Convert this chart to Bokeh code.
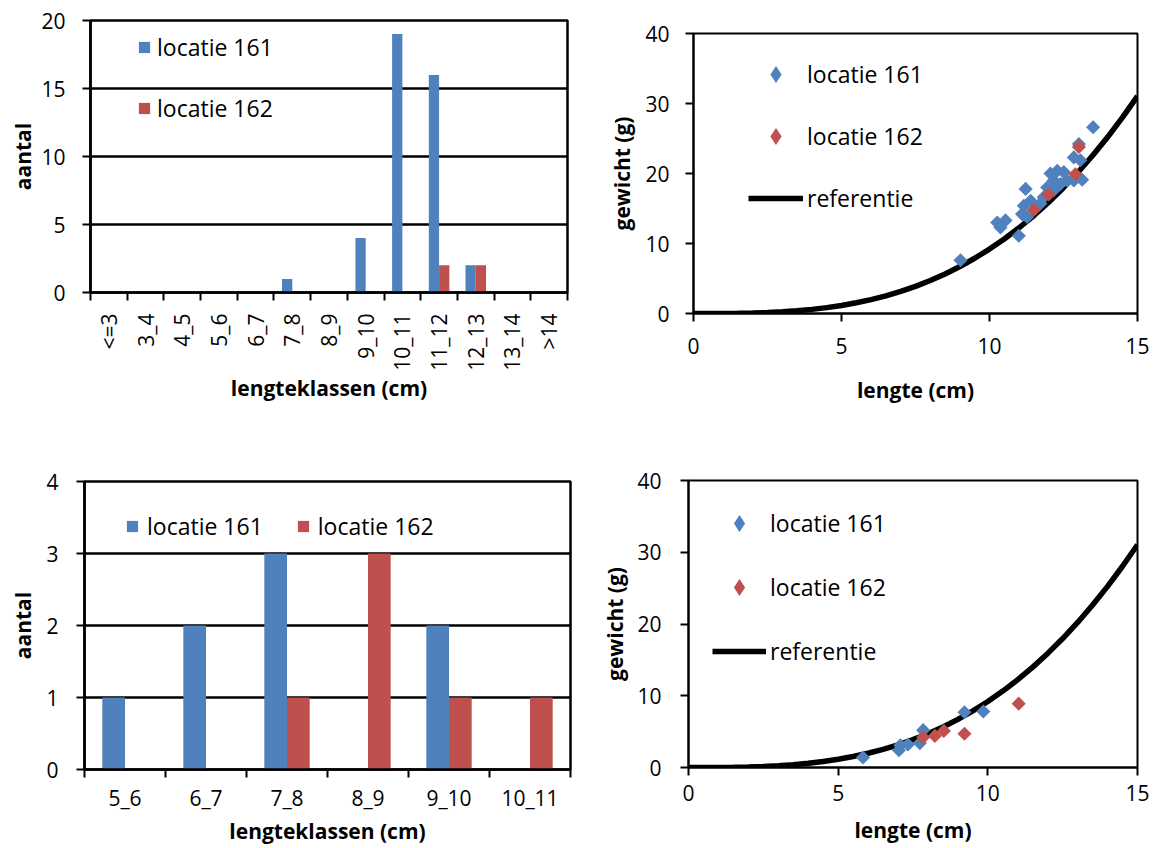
import math
import numpy as np
from bokeh.plotting import figure
from bokeh.models import Range1d, FixedTicker, Legend, LegendItem, ColumnDataSource
from bokeh.layouts import column, row
from bokeh.embed import file_html
from bokeh.resources import INLINE

FONT = "Open Sans"
BLUE = "#4F81BD"
RED = "#C0504D"

# ---- data: top-left histogram ----
classes_top = ["<=3", "3_4", "4_5", "5_6", "6_7", "7_8", "8_9", "9_10",
               "10_11", "11_12", "12_13", "13_14", ">14"]
count161_top = [0, 0, 0, 0, 0, 1, 0, 4, 19, 16, 2, 0, 0]
count162_top = [0, 0, 0, 0, 0, 0, 0, 0, 0, 2, 2, 0, 0]

# ---- data: bottom-left histogram ----
classes_bot = ["5_6", "6_7", "7_8", "8_9", "9_10", "10_11"]
count161_bot = [1, 2, 3, 0, 2, 0]
count162_bot = [0, 0, 1, 3, 1, 1]

# ---- data: top-right scatter ----
len161_top = [9.02, 10.26, 10.37, 10.54, 10.99, 11.10, 11.16, 11.22, 11.27, 11.39,
              11.72, 11.83, 11.95, 12.06, 12.17, 12.17, 12.29, 12.40, 12.51, 12.62,
              12.85, 12.85, 13.02, 13.07, 13.13, 13.50]
wt161_top = [7.6, 13.0, 12.3, 13.3, 11.1, 14.2, 15.4, 17.8, 13.8, 16.1,
             15.7, 16.6, 18.0, 20.0, 19.0, 17.6, 20.4, 18.5, 20.2, 19.0,
             22.3, 19.0, 24.2, 21.9, 19.1, 26.6]
len162_top = [11.5, 12.0, 12.9, 13.02]
wt162_top = [14.8, 17.0, 19.9, 23.8]

# ---- data: bottom-right scatter ----
len161_bot = [5.83, 7.03, 7.08, 7.33, 7.73, 7.84, 9.22, 9.85]
wt161_bot = [1.4, 2.4, 3.1, 3.2, 3.4, 5.2, 7.7, 7.8]
len162_bot = [7.84, 8.23, 8.53, 9.22, 11.03]
wt162_bot = [4.2, 4.4, 5.1, 4.7, 8.9]

# ---- data: reference curve ----
ref_len = [0, 0.5, 1, 1.5, 2, 2.5, 3, 3.5, 4, 4.5, 5, 5.5, 6, 6.5, 7, 7.5,
           8, 8.5, 9, 9.5, 10, 10.5, 11, 11.5, 12, 12.5, 13, 13.5, 14, 14.5, 15]
ref_wt = [0, 0.0, 0.01, 0.03, 0.07, 0.14, 0.25, 0.39, 0.59, 0.84, 1.15, 1.53,
          1.99, 2.53, 3.16, 3.88, 4.71, 5.65, 6.71, 7.89, 9.2, 10.65, 12.25,
          13.99, 15.9, 17.97, 20.21, 22.64, 25.24, 28.05, 31.05]

TICK_SIZE = "21px"
TITLE_SIZE = "21px"
LEG_SIZE = "23px"


def base_fig(w, h, xr, yr, bl, br, bt, bb):
    p = figure(width=w, height=h, x_range=Range1d(*xr), y_range=Range1d(*yr),
               output_backend="svg", toolbar_location=None, tools="",
               min_border_left=bl, min_border_right=br,
               min_border_top=bt, min_border_bottom=bb, frame_align=False)
    p.outline_line_color = "black"
    p.outline_line_width = 2
    p.outline_line_alpha = 1
    p.background_fill_color = "white"
    p.border_fill_color = "white"
    p.xgrid.visible = False
    for ax in (p.xaxis[0], p.yaxis[0]):
        ax.axis_line_color = "black"
        ax.axis_line_width = 2
        ax.major_tick_line_color = "black"
        ax.major_tick_line_width = 2
        ax.major_tick_in = 0
        ax.major_tick_out = 8
        ax.minor_tick_line_color = None
        ax.major_label_text_font = FONT
        ax.major_label_text_font_size = TICK_SIZE
        ax.major_label_text_color = "black"
        ax.axis_label_text_font = FONT
        ax.axis_label_text_font_size = TITLE_SIZE
        ax.axis_label_text_font_style = "bold"
        ax.axis_label_text_color = "black"
    return p


def hist_fig(w, h, classes, c161, c162, ymax, ystep, bl, br, bt, bb,
             vertical_labels, ystand, ytitle, xstand, xtitle):
    n = len(classes)
    p = base_fig(w, h, (0, n), (0, ymax), bl, br, bt, bb)
    p.outline_line_width = 2.5
    p.ygrid.ticker = FixedTicker(ticks=list(range(0, ymax + 1, ystep)))
    p.ygrid.grid_line_color = "black"
    p.ygrid.grid_line_width = 2.5
    ya = p.yaxis[0]
    ya.ticker = FixedTicker(ticks=list(range(0, ymax + 1, ystep)))
    ya.axis_line_width = 2.5
    ya.axis_label = "aantal"
    ya.major_label_standoff = ystand
    ya.axis_label_standoff = ytitle
    xa = p.xaxis[0]
    xa.axis_line_width = 2.5
    centers = [i + 0.5 for i in range(n)]
    xa.ticker = FixedTicker(ticks=centers, minor_ticks=list(range(0, n + 1)))
    xa.major_label_overrides = {c: lab for c, lab in zip(centers, classes)}
    xa.major_tick_out = 0
    xa.major_tick_in = 0
    xa.minor_tick_line_color = "black"
    xa.minor_tick_line_width = 2
    xa.minor_tick_out = 8
    xa.minor_tick_in = 0
    xa.axis_label = "lengteklassen (cm)"
    if vertical_labels:
        xa.major_label_orientation = math.pi / 2
    xa.major_label_standoff = xstand
    xa.axis_label_standoff = xtitle
    idx = np.arange(n)
    r1 = p.vbar(x=idx + 0.5 - 0.14, top=c161, width=0.28, bottom=0,
                fill_color=BLUE, line_color=None)
    r2 = p.vbar(x=idx + 0.5 + 0.14, top=c162, width=0.28, bottom=0,
                fill_color=RED, line_color=None)
    return p, r1, r2


def scatter_fig(w, h, l161, w161, l162, w162, bl, br, bt, bb,
                ystand, ytitle, xstand, xtitle):
    p = base_fig(w, h, (0, 15), (0, 40), bl, br, bt, bb)
    p.ygrid.visible = False
    p.xaxis.ticker = FixedTicker(ticks=[0, 5, 10, 15])
    p.yaxis.ticker = FixedTicker(ticks=[0, 10, 20, 30, 40])
    p.xaxis.axis_label = "lengte (cm)"
    p.yaxis.axis_label = "gewicht (g)"
    p.xaxis.major_label_standoff = xstand
    p.xaxis.axis_label_standoff = xtitle
    p.yaxis.major_label_standoff = ystand
    p.yaxis.axis_label_standoff = ytitle
    rl = p.line(ref_len, ref_wt, line_color="black", line_width=5.5)
    p.scatter(l161, w161, marker="square", angle=math.pi / 4, size=10,
              fill_color=BLUE, line_color=None)
    p.scatter(l162, w162, marker="square", angle=math.pi / 4, size=10,
              fill_color=RED, line_color=None)
    # legend-only diamond glyphs (a single NaN row, so nothing is drawn in the plot)
    nan_src = ColumnDataSource(data=dict(x=[np.nan], y=[np.nan]))
    k1 = p.scatter("x", "y", source=nan_src, marker="diamond",
                   fill_color=BLUE, line_color=None)
    k2 = p.scatter("x", "y", source=nan_src, marker="diamond",
                   fill_color=RED, line_color=None)
    return p, k1, k2, rl


def style_legend(leg):
    leg.label_text_font = FONT
    leg.label_text_font_size = LEG_SIZE
    leg.label_text_color = "black"
    leg.border_line_color = None
    leg.background_fill_alpha = 0
    leg.padding = 0
    leg.margin = 0
    leg.label_height = 20


# top-left
p1, b1, b2 = hist_fig(578, 418, classes_top, count161_top, count162_top, 20, 5,
                      90, 11, 20, 126, True, 17, 1, 13, 0)
leg1 = Legend(items=[LegendItem(label="locatie 161", renderers=[b1]),
                     LegendItem(label="locatie 162", renderers=[b2])],
              location=(47, 168), glyph_width=14, glyph_height=14, spacing=29,
              label_standoff=6)
style_legend(leg1)
p1.add_layout(leg1)

# top-right
p2, s1, s2, l2 = scatter_fig(578, 418, len161_top, wt161_top, len162_top, wt162_top,
                             115, 19, 33, 105, 16, 6, 16, 19)
leg2 = Legend(items=[LegendItem(label="locatie 161", renderers=[s1]),
                     LegendItem(label="locatie 162", renderers=[s2]),
                     LegendItem(label="referentie", renderers=[l2])],
              location=(55, 94), glyph_width=55, glyph_height=42, spacing=20,
              label_standoff=4)
style_legend(leg2)
p2.add_layout(leg2)

# bottom-left
p3, b3, b4 = hist_fig(578, 430, classes_bot, count161_bot, count162_bot, 4, 1,
                      84, 8, 63, 79, False, 18, 6, 6, 2)
leg3 = Legend(items=[LegendItem(label="locatie 161", renderers=[b3]),
                     LegendItem(label="locatie 162", renderers=[b4])],
              location=(41, 227), glyph_width=14, glyph_height=14, spacing=33,
              label_standoff=8, orientation="horizontal")
style_legend(leg3)
p3.add_layout(leg3)

# bottom-right
p4, s3, s4, l4 = scatter_fig(578, 430, len161_bot, wt161_bot, len162_bot, wt162_bot,
                             110, 19, 62, 81, 19, 5, 9, 12)
leg4 = Legend(items=[LegendItem(label="locatie 161", renderers=[s3]),
                     LegendItem(label="locatie 162", renderers=[s4]),
                     LegendItem(label="referentie", renderers=[l4])],
              location=(24, 95), glyph_width=54, glyph_height=42, spacing=22,
              label_standoff=4)
style_legend(leg4)
p4.add_layout(leg4)

layout = column(row(p1, p2), row(p3, p4))
open("out.html", "w").write(file_html(layout, INLINE))
